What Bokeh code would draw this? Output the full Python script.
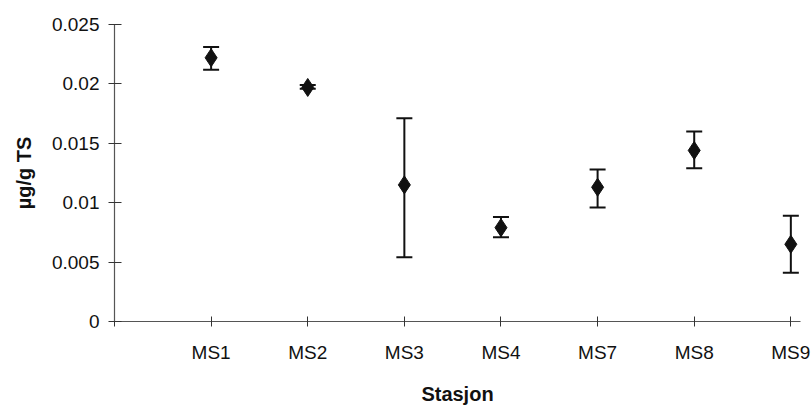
from bokeh.plotting import figure
from bokeh.models import ColumnDataSource, Whisker, TeeHead, FixedTicker, Range1d
from bokeh.embed import file_html
from bokeh.resources import INLINE

stations = ["MS1", "MS2", "MS3", "MS4", "MS7", "MS8", "MS9"]
means = [0.0222, 0.0197, 0.0115, 0.0079, 0.0113, 0.0144, 0.0065]
upper = [0.0231, 0.0199, 0.0171, 0.0088, 0.0128, 0.0160, 0.0089]
lower = [0.0212, 0.0196, 0.0054, 0.0071, 0.0096, 0.0129, 0.0041]
y_ticks = [0, 0.005, 0.01, 0.015, 0.02, 0.025]
y_tick_labels = ["0", "0.005", "0.01", "0.015", "0.02", "0.025"]

xs = list(range(1, len(stations) + 1))
src = ColumnDataSource(dict(x=xs, y=means, up=upper, lo=lower))

FONT = "Liberation Sans"
p = figure(width=812, height=409, output_backend="svg", toolbar_location=None,
           x_range=Range1d(0, 7.1), y_range=Range1d(0, 0.025),
           min_border_left=114, min_border_right=12, min_border_top=24, min_border_bottom=88)
p.outline_line_color = None
p.xgrid.grid_line_color = None
p.ygrid.grid_line_color = None
p.background_fill_color = "white"
p.border_fill_color = "white"

w = Whisker(source=src, base="x", upper="up", lower="lo", dimension="height",
            line_color="#111111", line_width=2,
            upper_head=TeeHead(size=16, line_width=2, line_color="#111111"),
            lower_head=TeeHead(size=16, line_width=2, line_color="#111111"))
p.add_layout(w)
p.scatter("x", "y", source=src, marker="diamond", size=18, fill_color="#111111",
          line_color="#111111")

ax = p.xaxis[0]
ax.ticker = FixedTicker(ticks=[0] + xs)
ax.major_label_overrides = {i: s for i, s in zip(xs, stations)}
ax.major_label_overrides[0] = ""
ax.axis_label = "Stasjon"
ay = p.yaxis[0]
ay.ticker = FixedTicker(ticks=y_ticks)
ay.major_label_overrides = {t: s for t, s in zip(y_ticks, y_tick_labels)}
ay.axis_label = "µg/g TS"

for a in (ax, ay):
    a.axis_line_color = "#555555"
    a.axis_line_width = 1.2
    a.major_tick_line_color = "#333333"
    a.minor_tick_line_color = None
    a.major_label_text_font = FONT
    a.major_label_text_font_size = "19px"
    a.major_label_text_color = "#111111"
    a.axis_label_text_font = FONT
    a.axis_label_text_font_size = "20px"
    a.axis_label_text_font_style = "bold"
    a.axis_label_text_color = "#111111"

ax.major_tick_in = 5
ax.major_tick_out = 5
ax.major_label_standoff = 15
ax.axis_label_standoff = 17
ay.major_tick_in = 7
ay.major_tick_out = 6
ay.major_label_standoff = 9
ay.axis_label_standoff = 14

open("out.html", "w").write(file_html(p, INLINE))
